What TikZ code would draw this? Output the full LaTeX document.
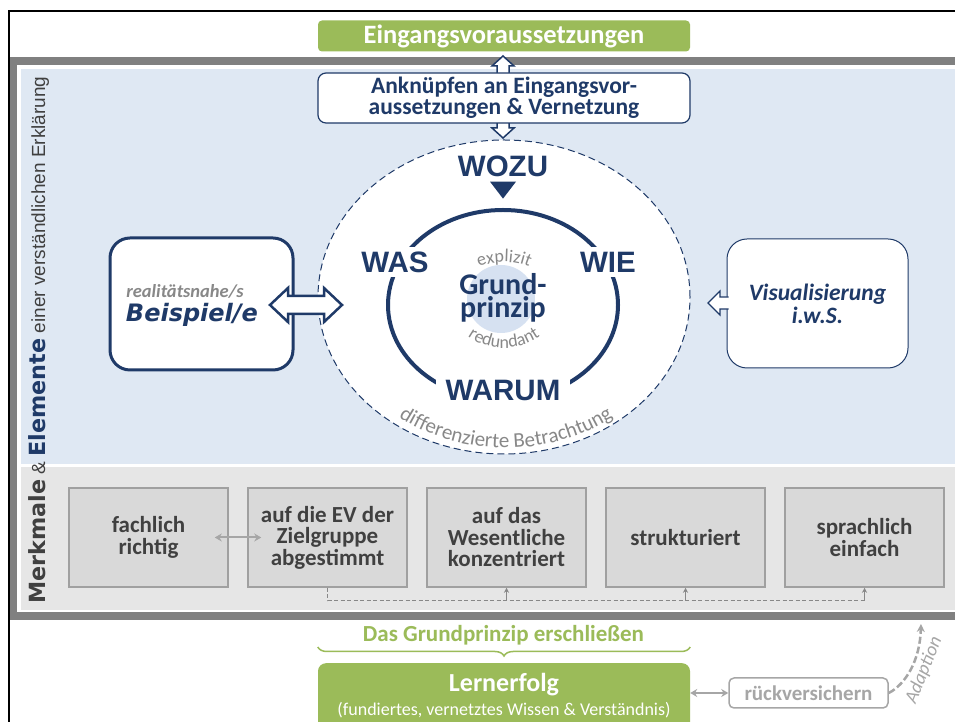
\documentclass[tikz,border=0pt]{standalone}
\usepackage{fontspec}
\usepackage{xcolor}
\usepackage{tikz}
\usetikzlibrary{shapes.geometric,decorations.text,decorations.pathreplacing,arrows.meta,calc}

\setmainfont{Carlito}
\newfontfamily\arialfont{Liberation Sans}
\newfontfamily\verdfont{DejaVu Sans}

\definecolor{dblue}{HTML}{1F3A68}
\definecolor{ggreen}{HTML}{9BBB59}
\definecolor{bgblue}{HTML}{DFE8F3}
\definecolor{bggray}{HTML}{E6E6E6}
\definecolor{boxgray}{HTML}{D9D9D9}
\definecolor{boxline}{HTML}{A0A0A0}
\definecolor{framegray}{HTML}{808080}
\definecolor{tgray}{HTML}{404040}
\definecolor{midgray}{HTML}{888888}
\definecolor{lgray}{HTML}{A6A6A6}
\definecolor{discblue}{HTML}{D6E1F1}

\tikzset{
  greenbox/.style={fill=ggreen, rounded corners=4pt, text=white, inner sep=0pt},
  bluebox/.style={draw=dblue, fill=white, text=dblue, align=center},
  keyword/.style={font=\arialfont\bfseries\fontsize{29.5}{29.5}\selectfont, text=dblue, fill=white, inner ysep=5pt, inner xsep=4pt},
  merkbox/.style={draw=boxline, fill=boxgray, line width=1.5pt, minimum width=159pt, minimum height=99pt,
    align=center, text=tgray, font=\bfseries\fontsize{23}{21.5}\selectfont},
  hollow/.style={draw=dblue, fill=white, line join=miter},
  greyarrow/.style={draw=lgray, line width=2.5pt, {Stealth[length=7pt,width=8pt]}-{Stealth[length=7pt,width=8pt]}},
  dashlink/.style={draw=midgray, line width=0.8pt, dash pattern=on 4pt off 2.5pt},
  linkarrow/.style={draw=midgray, line width=0.8pt, -{Stealth[length=5pt,width=5pt]}},
}

\begin{document}
\begin{tikzpicture}[x=1pt,y=1pt]
\clip (0,0) rectangle (955,722);
\fill[white] (0,0) rectangle (955,722);

% frames and backgrounds
\draw[line width=2.5pt] (9,-10) rectangle (980,711);
\draw[framegray, line width=7.5pt] (13.5,106) rectangle (980,661);
\fill[bgblue] (21,258) rectangle (980,653);
\fill[bggray] (21,112) rectangle (980,255);

% outer circle
\node[ellipse, draw=dblue, line width=1pt, dash pattern=on 7pt off 4pt, fill=white,
  minimum width=372pt, minimum height=314pt] (outer) at (504,425) {};

% connection to the entry requirements
\draw[hollow, line width=1.5pt] (503,666) -- (514,656) -- (509,656) -- (509,594) -- (514,594) -- (503,584)
  -- (492,594) -- (497,594) -- (497,656) -- (492,656) -- cycle;
\node[bluebox, rounded corners=8pt, line width=1.2pt, minimum width=372pt, minimum height=50pt,
  font=\bfseries\fontsize{23.5}{17}\selectfont] (ank) at (504,624) {Anknüpfen an Eingangsvor-\\aussetzungen \& Vernetzung};
\node[greenbox, minimum width=372pt, minimum height=31pt, font=\bfseries\fontsize{26.5}{26.5}\selectfont] (ev) at (504,686) {Eingangsvoraussetzungen};

% inner circle
\draw[dblue, line width=4pt] (503,417) ellipse [x radius=115, y radius=95];
\fill[discblue] (501,423) circle (34);
\node[align=center, text=dblue, font=\bfseries\fontsize{30}{22.5}\selectfont] (gp) at (503,424) {Grund-\\prinzip};
\path[decorate, decoration={text along path, text align=center,
  text={|\fontsize{18}{18}\selectfont\color{midgray}|explizit}}] ($(504,395)+(160:65)$) arc[start angle=160, end angle=20, radius=65];
\path[decorate, decoration={text along path, text align=center,
  text={|\fontsize{18}{18}\selectfont\color{midgray}|redundant}}] ($(504,437)+(200:63)$) arc[start angle=200, end angle=340, radius=63];
\node[keyword] (wozu) at (503,556) {WOZU};
\fill[dblue] ([xshift=-13pt]wozu.south) -- ++(26,0) -- ++(-13,-17) -- cycle;
\node[keyword] (was) at (395,460) {WAS};
\node[keyword] (wie) at (608,460) {WIE};
\node[keyword, inner xsep=10pt] (warum) at (503,331) {WARUM};
\path[decorate, decoration={text along path, text align=center,
  text={|\fontsize{21}{21}\selectfont\color{midgray}|differenzierte Betrachtung}}]
  ($(506,425)+(200:177 and 151)$) arc[start angle=200, end angle=340, x radius=177, y radius=151];

% example
\node[draw=dblue, line width=3pt, fill=white, rounded corners=20pt, minimum width=183pt, minimum height=132pt] (bsp) at (201.5,418) {};
\node[text=midgray, font=\bfseries\itshape\fontsize{18.5}{18.5}\selectfont] (bsptop) at (185,431) {realitätsnahe/s};
\node[text=dblue, font=\verdfont\bfseries\itshape\fontsize{24}{24}\selectfont] (bspmain) at (192,407) {Beispiel/e};
\draw[hollow, line width=2.5pt] (270,417) -- (288,434) -- (288,426) -- (324,426) -- (324,434) -- (342,417)
  -- (324,400) -- (324,408) -- (288,408) -- (288,400) -- cycle;

% visualisation
\node[bluebox, line width=1pt, rounded corners=20pt, minimum width=181pt, minimum height=129pt,
  font=\bfseries\itshape\fontsize{23.5}{23}\selectfont] (vis) at (817.5,418.5) {Visualisierung\\i.w.S.};
\path[hollow, line width=1.2pt] (728.5,425) -- (720,425) -- (720,431) -- (708,419) -- (720,407) -- (720,413) -- (728.5,413);

% characteristics
\foreach \i/\txt in {1/{fachlich\\richtig}, 2/{auf die EV der\\Zielgruppe\\abgestimmt}, 3/{auf das\\Wesentliche\\konzentriert},
  4/{strukturiert}, 5/{sprachlich\\einfach}}
  \node[merkbox] (m\i) at ({148.5+179*(\i-1)},184.5) {\txt};
\draw[greyarrow, line width=2pt] ([xshift=-14pt]m1.east) -- ([xshift=14pt]m2.west);
\draw[dashlink] (m2.south) -- ++(0,-13) coordinate (d0) -- (d0 -| m5.south);
\foreach \j in {3,4,5}
  \draw[linkarrow] (d0 -| m\j.south) -- (m\j.south);

\node[rotate=90, anchor=base west, inner sep=0pt, text=tgray, font=\arialfont\fontsize{19}{19}\selectfont] (side) at (45,118)
  {{\verdfont\bfseries\fontsize{22.3}{22.3}\selectfont Merkmale} \& {\verdfont\bfseries\fontsize{22.3}{22.3}\selectfont\color{dblue}Elemente} einer verständlichen Erklärung};

% learning success
\node[greenbox, rounded corners=8pt, minimum width=372pt, minimum height=80pt, anchor=north] (ler) at (504,59) {};
\node[text=white, font=\bfseries\fontsize{26}{26}\selectfont] (lertitle) at (504,37) {Lernerfolg};
\node[text=white, font=\fontsize{18}{18}\selectfont] (lersub) at (504,12) {(fundiertes, vernetztes Wissen \& Verständnis)};
\draw[ggreen, line width=1.5pt, decorate, decoration={brace, mirror, amplitude=9pt}] ([yshift=16pt]ler.north west) -- ([yshift=16pt]ler.north east);
\node[text=ggreen, font=\bfseries\fontsize{23}{23}\selectfont] (gpe) at (503.5,87) {Das Grundprinzip erschließen};
\node[draw=lgray, line width=1.5pt, rounded corners=5pt, fill=white, text=lgray, inner sep=0pt,
  font=\bfseries\fontsize{21}{21}\selectfont, minimum width=159pt, minimum height=30pt] (rv) at (808.5,29) {rückversichern};
\draw[greyarrow] (ler.east |- rv.west) -- (rv.west);
\draw[lgray, line width=2.5pt, dash pattern=on 7pt off 3pt, -{Stealth[length=8pt,width=8pt]}] (rv.east) .. controls (906,38) and (920,62) .. (921,98);
\node[rotate=68, text=lgray, font=\itshape\fontsize{19}{19}\selectfont] (adapt) at (924,52) {Adaption};
\end{tikzpicture}
\end{document}
